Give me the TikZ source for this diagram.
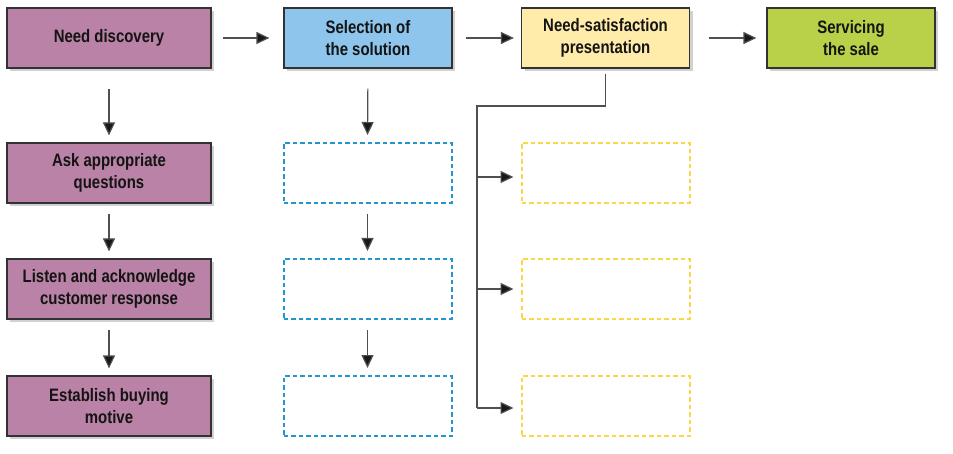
\documentclass[tikz,border=0pt]{standalone}
\usepackage{fontspec}
\newfontfamily\condfont{Liberation Sans}[FakeStretch=0.83]
\usetikzlibrary{arrows.meta,shadows}
\definecolor{mauve}{RGB}{186,130,166}
\definecolor{skyb}{RGB}{142,197,236}
\definecolor{paley}{RGB}{255,235,170}
\definecolor{limeg}{RGB}{184,209,72}
\definecolor{dashb}{RGB}{35,150,210}
\definecolor{dashy}{RGB}{250,215,70}
\definecolor{edgec}{RGB}{50,50,50}
\definecolor{linec}{RGB}{80,80,80}
\begin{document}
\begin{tikzpicture}[x=1pt,y=-1pt,
  box/.style={rectangle,draw=edgec,line width=1.2pt,minimum height=60pt,
    align=center,font=\condfont\bfseries\fontsize{18}{21.5}\selectfont,text=black!92,
    drop shadow={shadow xshift=3pt,shadow yshift=-3pt,opacity=0.18,fill=black}},
  wbox/.style={box,minimum width=204pt},
  nbox/.style={box,minimum width=168pt},
  dbox/.style={rectangle,minimum width=168pt,minimum height=60pt,line width=2pt,
    dash pattern=on 4.5pt off 3pt},
  arr/.style={draw=linec,line width=1.2pt,-{Triangle[length=13pt,width=12pt,fill=black!90]}},
  ln/.style={draw=linec,line width=1.2pt}
]
\useasboundingbox (0,0) rectangle (953,454);
% top row
\node[wbox,fill=mauve] (nd) at (109,38) {Need discovery};
\node[nbox,fill=skyb] (sel) at (368,38) {Selection of\\the solution};
\node[nbox,fill=paley] (nsp) at (605.5,38) {Need-satisfaction\\presentation};
\node[nbox,fill=limeg] (svc) at (851,38) {Servicing\\the sale};
% column 1
\node[wbox,fill=mauve] (q1) at (109,173) {Ask appropriate\\questions};
\node[wbox,fill=mauve] (q2) at (109,289) {Listen and acknowledge\\customer response};
\node[wbox,fill=mauve] (q3) at (109,406) {Establish buying\\motive};
% column 2
\node[dbox,draw=dashb] (b1) at (367.5,173) {};
\node[dbox,draw=dashb] (b2) at (367.5,289) {};
\node[dbox,draw=dashb] (b3) at (367.5,406) {};
% column 3
\node[dbox,draw=dashy] (y1) at (605.5,173) {};
\node[dbox,draw=dashy] (y2) at (605.5,289) {};
\node[dbox,draw=dashy] (y3) at (605.5,406) {};
% horizontal arrows
\draw[arr,shorten <=11pt,shorten >=14pt] (nd.east) -- (nd.east -| sel.west);
\draw[arr,shorten <=13pt,shorten >=7pt] (sel.east) -- (nsp.west);
\draw[arr,shorten <=19pt,shorten >=10pt] (nsp.east) -- (svc.west);
% vertical arrows col 1
\draw[arr,shorten <=20pt,shorten >=7pt] (nd.south) -- (q1.north);
\draw[arr,shorten <=10pt,shorten >=7pt] (q1.south) -- (q2.north);
\draw[arr,shorten <=10pt,shorten >=7pt] (q2.south) -- (q3.north);
% vertical arrows col 2
\draw[arr,shorten <=20pt,shorten >=7pt] (sel.south) -- (b1.north);
\draw[arr,shorten <=10pt,shorten >=7pt] (b1.south) -- (b2.north);
\draw[arr,shorten <=10pt,shorten >=7pt] (b2.south) -- (b3.north);
% branch from need-satisfaction
\coordinate (jt) at (477,106);
\coordinate (jb) at (477,408);
\draw[ln] ([yshift=-5pt]nsp.south) -- (nsp.south |- jt) -- (jt) -- (jb);
\draw[arr,shorten >=7pt] ([yshift=-4pt]jt |- y1) -- ([yshift=-4pt]y1.west);
\draw[arr,shorten >=7pt] (jt |- y2) -- (y2.west);
\draw[arr,shorten >=7pt] (jb) -- (jb -| y3.west);
\end{tikzpicture}
\end{document}
